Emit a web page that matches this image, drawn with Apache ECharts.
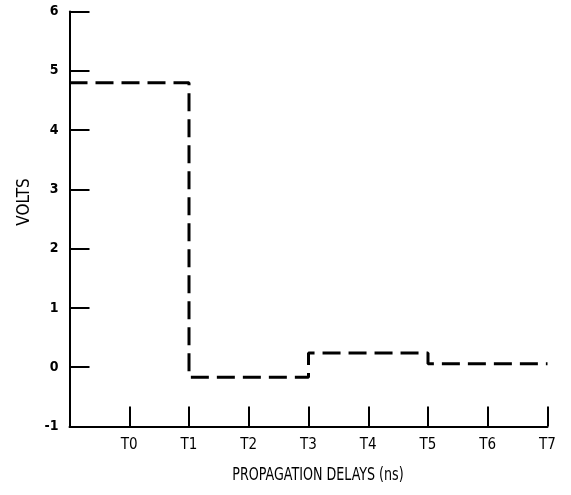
<!DOCTYPE html>
<html>
<head>
<meta charset="utf-8">
<script src="https://cdn.jsdelivr.net/npm/echarts@6/dist/echarts.min.js"></script>
<style>
  html, body { margin: 0; padding: 0; background: #fff; }
  #chart { width: 571px; height: 495px; }
</style>
</head>
<body>
<div id="chart"></div>
<script>
// Step response sampled at propagation-delay boundaries.
// Each level is held from its time until the next time.
const stepTimes = [-1, 1, 3, 5, 7];
const voltLevels = [4.8, -0.17, 0.24, 0.06, 0.06];
const delayLabels = ['T0', 'T1', 'T2', 'T3', 'T4', 'T5', 'T6', 'T7'];
const voltTicks = [-1, 0, 1, 2, 3, 4, 5, 6];

const FONT = '"DejaVu Sans Condensed", "Liberation Sans Narrow", "Liberation Sans", Arial, sans-serif';

const chart = echarts.init(document.getElementById('chart'), null, { renderer: 'canvas' });

const points = stepTimes.map((t, i) => [t, voltLevels[i]]);

chart.setOption({
  animation: false,
  backgroundColor: '#ffffff',
  grid: { left: 69.5, right: 23.5, top: 11.5, bottom: 68.5, containLabel: false },
  xAxis: {
    type: 'value',
    min: -1,
    max: 7,
    interval: 1,
    splitLine: { show: false },
    axisLine: { show: true, onZero: false, lineStyle: { color: '#000', width: 2 } },
    axisTick: { show: true, inside: true, length: 20, lineStyle: { color: '#000', width: 2 } },
    axisLabel: {
      margin: 11,
      color: '#000',
      fontFamily: FONT,
      fontSize: 15,
      formatter: v => (v >= 0 && v < delayLabels.length) ? delayLabels[v] : ''
    }
  },
  yAxis: {
    type: 'value',
    min: voltTicks[0],
    max: voltTicks[voltTicks.length - 1],
    interval: 1,
    splitLine: { show: false },
    axisLine: { show: true, onZero: false, lineStyle: { color: '#000', width: 2 } },
    axisTick: { show: true, inside: true, length: 20, lineStyle: { color: '#000', width: 2 } },
    axisLabel: {
      margin: 11,
      color: '#000',
      fontFamily: FONT,
      fontSize: 14,
      fontWeight: 'bold',
      formatter: v => voltTicks.includes(v) ? String(v) : ''
    }
  },
  graphic: [
    {
      type: 'text',
      x: 318,
      y: 476,
      scaleX: 0.83,
      style: { text: 'PROPAGATION DELAYS (ns)', fill: '#000', font: '17px ' + FONT, align: 'center', verticalAlign: 'middle' }
    },
    {
      type: 'text',
      x: 25,
      y: 202,
      rotation: Math.PI / 2,
      style: { text: 'VOLTS', fill: '#000', font: '17px ' + FONT, align: 'center', verticalAlign: 'middle' }
    }
  ],
  series: [{
    type: 'line',
    step: 'end',
    data: points,
    showSymbol: false,
    lineStyle: { color: '#000', width: 3, type: [18, 8] }
  }]
});
</script>
</body>
</html>
